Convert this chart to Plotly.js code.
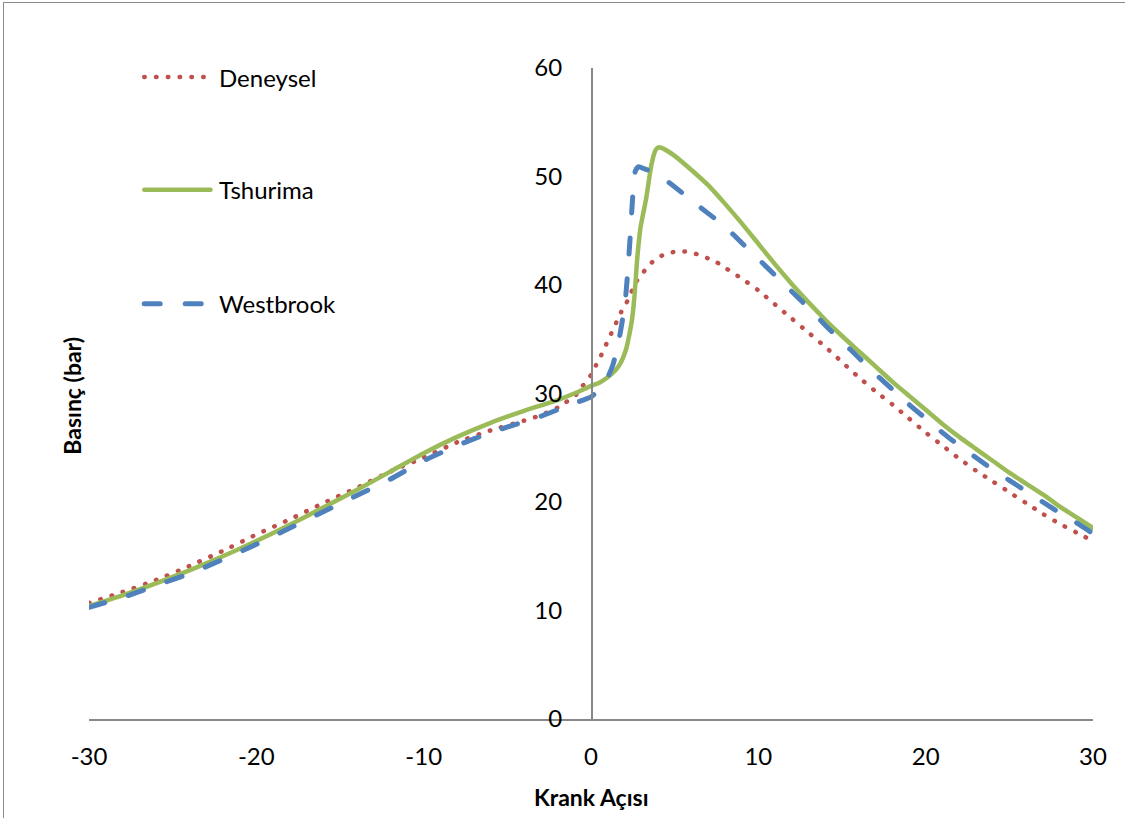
<!DOCTYPE html>
<html>
<head>
<meta charset="utf-8">
<script src="https://cdn.plot.ly/plotly-3.0.1.min.js"></script>
<style>
  html, body { margin: 0; padding: 0; overflow: hidden; background: #fff; }
  #chart { position: absolute; left: 0; top: 0; width: 1125px; height: 818px; }
  #frame { position: absolute; left: 3px; top: 2px; width: 1300px; height: 1000px;
           border: 1px solid #8a8a8a; box-sizing: border-box; pointer-events: none; }
  .scatterlayer .js-line, .shapelayer path { stroke-linecap: round; }
</style>
</head>
<body>
<div id="chart"></div>
<div id="frame"></div>
<script>
// Crank angle (deg) and cylinder pressure (bar)
const deneyselX = [-30,-28,-26,-24,-22,-20,-18,-16,-14,-12,-10,-8,-6,-4,-3,-2,-1.5,-1,-0.5,0,
  0.3,0.6,0.9,1.2,1.5,1.8,2.1,2.4,2.7,3.0,3.5,4,4.5,5,5.5,6,6.5,7,7.5,8,
  9,10,11,12,13,14,15,16,17,18,19,20,21,22,23,24,25,26,27,28,29,30];
const deneyselY = [10.7,11.7,12.8,14.1,15.5,17.0,18.4,19.9,21.3,22.8,24.1,25.5,26.6,27.5,28.0,28.7,29.2,29.7,30.7,31.7,
  32.6,33.5,34.5,35.5,36.5,37.5,38.3,39.3,40.3,40.9,41.9,42.5,42.9,43.05,43.1,43.0,42.75,42.45,42.1,41.6,
  40.6,39.5,38.2,36.9,35.6,34.3,32.9,31.5,30.2,29.0,27.7,26.4,25.2,24.0,22.9,21.9,20.9,19.9,18.9,18.0,17.2,16.4];

const tshurimaX = [-30,-28,-26,-24,-22,-20,-18,-16,-14,-12,-10,-8,-6,-4,-3,-2,-1,0,
  0.5,1,1.5,1.8,2.1,2.3,2.45,2.6,2.75,2.95,3.3,3.6,3.85,4.05,4.4,5,6,7,8,9,
  10,11,12,13,14,15,16,17,18,19,20,21,22,23,24,25,26,27,28,29,30];
const tshurimaY = [10.4,11.4,12.5,13.7,15.0,16.4,17.9,19.5,21.1,22.8,24.5,26.0,27.3,28.4,28.9,29.4,30.0,30.7,
  31.0,31.5,32.2,32.9,34.1,35.5,36.8,39.0,42.2,45.2,48.0,51.0,52.4,52.7,52.5,51.9,50.6,49.2,47.5,45.7,
  43.8,41.9,40.1,38.4,36.8,35.3,33.9,32.5,31.1,29.8,28.5,27.2,26.0,24.9,23.8,22.7,21.7,20.7,19.6,18.6,17.6];

const westbrookX = [-30,-28,-26,-24,-22,-20,-18,-16,-14,-12,-10,-8,-6,-4,-3,-2,-1,0,
  0.5,1,1.3,1.6,1.85,2.05,2.2,2.35,2.5,2.65,2.85,3.2,3.7,4.7,6,7,8,9,10,11,
  12,13,14,15,16,17,18,19,20,21,22,23,24,25,26,27,28,29,30];
const westbrookY = [10.3,11.2,12.3,13.4,14.7,16.1,17.6,19.1,20.6,22.1,23.8,25.2,26.4,27.4,27.9,28.5,29.1,29.7,
  30.4,31.5,32.6,34.4,36.5,38.6,41.3,44.6,48.3,50.5,50.9,50.7,50.4,49.4,47.8,46.6,45.4,43.9,42.4,40.9,
  39.4,37.9,36.3,34.8,33.3,31.8,30.4,29.0,27.7,26.4,25.2,24.1,23.0,22.0,21.0,20.0,19.0,18.1,17.1];

const seriesNames = ['Deneysel', 'Tshurima', 'Westbrook'];
const xTickVals = [-30, -20, -10, 0, 10, 20, 30];
const xTickText = ['-30', '-20', '-10', '0', '10', '20', '30'];
const yTickVals = [0, 10, 20, 30, 40, 50, 60];

const RED = '#C0504D', GREEN = '#9BBB59', BLUE = '#4F81BD';
const DOT = '0.5px,11.3px';
const DASH = '16px,25px';
const FONT = 'Lato, "Open Sans", sans-serif';

const traces = [
  { x: deneyselX, y: deneyselY, name: seriesNames[0], mode: 'lines',
    line: { color: RED, width: 4.5, dash: DOT, shape: 'spline', smoothing: 0.6 } },
  { x: tshurimaX, y: tshurimaY, name: seriesNames[1], mode: 'lines',
    line: { color: GREEN, width: 4.5, shape: 'spline', smoothing: 0.6 } },
  { x: westbrookX, y: westbrookY, name: seriesNames[2], mode: 'lines',
    line: { color: BLUE, width: 5, dash: DASH, shape: 'spline', smoothing: 0.6 } }
];

// Legend drawn as line samples with labels on the left side of the plot
const legendRows = [
  { y: 0.986, color: RED, width: 4.5, dash: DOT },
  { y: 0.813, color: GREEN, width: 4.5, dash: 'solid' },
  { y: 0.638, color: BLUE, width: 5, dash: DASH }
];
const shapes = legendRows.map(r => ({
  type: 'line', xref: 'paper', yref: 'paper',
  x0: 0.055, x1: 0.121, y0: r.y, y1: r.y,
  line: { color: r.color, width: r.width, dash: r.dash }
}));
const annotations = legendRows.map((r, i) => ({
  xref: 'paper', yref: 'paper', x: 0.1275, y: r.y,
  xanchor: 'left', yanchor: 'middle', showarrow: false,
  text: seriesNames[i], font: { family: FONT, size: 24, color: '#000' }
}));
annotations.push({
  xref: 'paper', yref: 'paper', x: 0.5, y: -0.1205,
  xanchor: 'center', yanchor: 'middle', showarrow: false,
  text: '<b>Krank Açısı</b>', font: { family: FONT, size: 23, color: '#000' }
});
annotations.push({
  xref: 'paper', yref: 'paper', x: -0.017, y: 0.4965,
  xanchor: 'center', yanchor: 'middle', showarrow: false, textangle: -90,
  text: '<b>Basınç (bar)</b>', font: { family: FONT, size: 23, color: '#000' }
});

const layout = {
  width: 1125, height: 818,
  margin: { l: 89, r: 32, t: 68, b: 98.5, pad: 0 },
  paper_bgcolor: '#fff', plot_bgcolor: '#fff',
  showlegend: false,
  font: { family: FONT, size: 24, color: '#000' },
  xaxis: {
    range: [-30, 30], tickvals: xTickVals, ticktext: xTickText, ticks: '',
    showgrid: false, zeroline: false,
    showline: true, linecolor: '#888', linewidth: 1.5,
    ticklabelstandoff: 16, tickfont: { family: FONT, size: 24, color: '#000' }
  },
  yaxis: {
    range: [0, 60], tickvals: yTickVals, ticks: '',
    anchor: 'free', position: 0.5, side: 'left',
    showgrid: false, zeroline: false,
    showline: true, linecolor: '#888', linewidth: 1.5,
    ticklabelstandoff: 24, tickfont: { family: FONT, size: 24, color: '#000' }
  },
  shapes: shapes,
  annotations: annotations
};

Plotly.newPlot('chart', traces, layout, { displayModeBar: false, staticPlot: true });
</script>
</body>
</html>
